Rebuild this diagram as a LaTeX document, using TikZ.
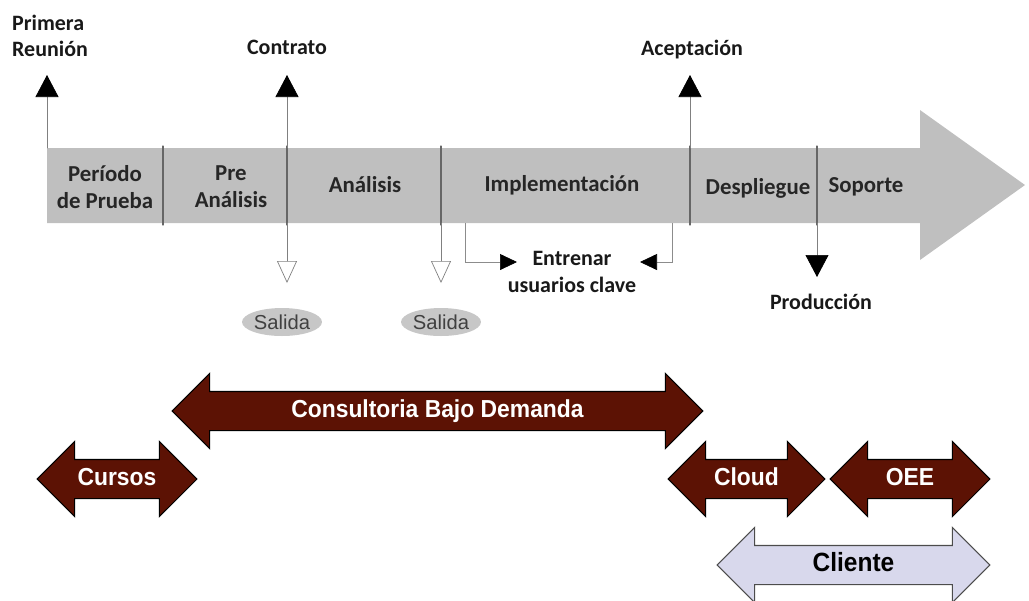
\documentclass[tikz,border=0pt]{standalone}
\usepackage{fontspec}
\setmainfont{Carlito}
\newfontfamily\narrowbf[FakeStretch=0.93]{Liberation Sans}
\newfontfamily\arialfont{Liberation Sans}
\usetikzlibrary{arrows.meta,shapes.geometric,shapes.arrows}
\definecolor{maroon}{RGB}{92,18,4}
\definecolor{lavanda}{RGB}{216,216,236}

\begin{document}
\begin{tikzpicture}[x=0.02cm,y=-0.02cm,line cap=round]
	\tikzstyle{phase}=[font=\bfseries\fontsize{13}{15.5}\selectfont,align=center,text=black!85];
	\tikzstyle{hito}=[font=\bfseries\fontsize{12.5}{15}\selectfont,align=center,text=black!90];
	\tikzstyle{divider}=[draw=black!60,line width=0.6pt];
	\tikzstyle{pinup}=[draw=black!50,line width=0.4pt,-{Triangle[length=0.44cm,width=0.46cm,color=black]}];
	\tikzstyle{pinopen}=[draw=black!50,line width=0.4pt,-{Triangle[open,length=0.44cm,width=0.4cm,fill=white]}];
	\tikzstyle{pinside}=[draw=black!45,line width=0.4pt,line cap=butt,-{Triangle[length=0.34cm,width=0.32cm,color=black]}];
	\tikzstyle{salida}=[ellipse,fill=black!22,minimum width=1.6cm,minimum height=0.56cm,inner sep=0pt,font=\arialfont\fontsize{11.5}{12}\selectfont,text=black!75];
	\tikzstyle{servicio}=[double arrow,double arrow head extend=0.36cm,text height=0.36cm,text depth=0.1cm,inner ysep=0.15cm,inner xsep=0pt,draw=black,line width=0.6pt,fill=maroon,text=white,font=\narrowbf\bfseries\fontsize{14}{15}\selectfont];

	\useasboundingbox (0,0) rectangle (1029,600);

	% timeline band
	\fill[black!25] (47,148) -- (920,148) -- (920,110) -- (1025,185) -- (920,260) -- (920,223) -- (47,223) -- cycle;
	\foreach \x in {163,287,441,690,817}
		\draw[divider] (\x,146) -- (\x,225);

	\node[phase] (prueba) at (105,187) {Período\\de Prueba};
	\node[phase] (prean) at (231,187) {Pre\\Análisis};
	\node[phase] (analisis) at (365,185) {Análisis};
	\node[phase] (impl) at (562,185) {Implementación};
	\node[phase] (despliegue) at (758,188) {Despliegue};
	\node[phase] (soporte) at (866,187) {Soporte};

	% milestones
	\node[hito,align=left] (primera) at (50,36) {Primera\\Reunión};
	\node[hito] (contrato) at (287,47) {Contrato};
	\node[hito] (aceptacion) at (692,50) {Aceptación};
	\node[hito] (produccion) at (821,302) {Producción};

	\coordinate (tPrimera) at (47,75);
	\coordinate (tContrato) at (287,75);
	\coordinate (tAceptacion) at (690,75);
	\coordinate (tProduccion) at (817,277);
	\coordinate (tSalidaA) at (287,283);
	\coordinate (tSalidaB) at (441,283);

	\draw[pinup] (47,148) -- (tPrimera);
	\draw[pinup] (287,148) -- (tContrato);
	\draw[pinup] (690,148) -- (tAceptacion);
	\draw[pinup] (817,223) -- (tProduccion);
	\draw[pinopen] (287,223) -- (tSalidaA);
	\draw[pinopen] (441,223) -- (tSalidaB);

	\node[salida] (salidaA) at (282,322) {Salida};
	\node[salida] (salidaB) at (441,322) {Salida};

	% training
	\node[hito] (entrenar) at (572,272) {Entrenar\\usuarios clave};
	\coordinate (tEntrL) at (517,262);
	\coordinate (tEntrR) at (640,262);
	\draw[pinside] (465,223) |- (tEntrL);
	\draw[pinside] (672,223) |- (tEntrR);

	% services
	\node[servicio,minimum height=10.62cm] (consultoria) at (437.5,411) {Consultoria Bajo Demanda};
	\node[servicio,minimum height=3.2cm] (cursos) at (117,479) {Cursos};
	\node[servicio,minimum height=3.14cm] (cloud) at (746.5,479) {Cloud};
	\node[servicio,minimum height=3.2cm] (oee) at (910,479) {OEE};
	\node[servicio,minimum height=5.46cm,fill=lavanda,draw=black!70,text=black,font=\narrowbf\bfseries\fontsize{15}{16}\selectfont] (cliente) at (853.5,565) {Cliente};
\end{tikzpicture}
\end{document}
